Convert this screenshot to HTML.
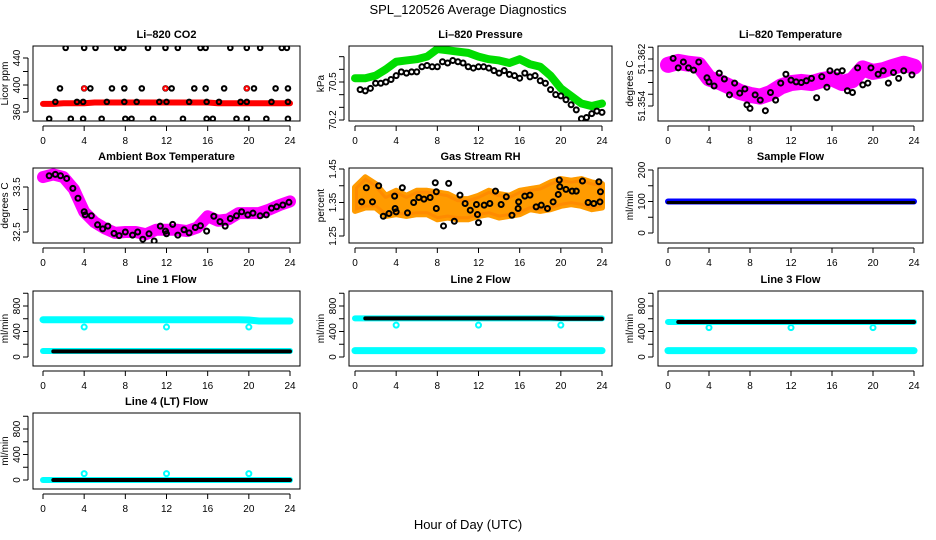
<!DOCTYPE html>
<html><head><meta charset="utf-8"><style>
html,body{margin:0;padding:0;background:#fff;}
svg{display:block;font-family:"Liberation Sans",sans-serif;}
</style></head><body>
<svg id="chart" width="936" height="540" viewBox="0 0 936 540" xmlns="http://www.w3.org/2000/svg">
<rect width="936" height="540" fill="#fff"/>
<text x="468" y="14" text-anchor="middle" font-size="13">SPL_120526  Average Diagnostics</text>
<text x="468" y="529" text-anchor="middle" font-size="13">Hour of Day (UTC)</text>
</svg>
<script>
// ---------- data ----------
const hours = [0,1,2,3,4,5,6,7,8,9,10,11,12,13,14,15,16,17,18,19,20,21,22,23,24];
const xTicks = [0,4,8,12,16,20,24];

// CO2
const co2RedBand = [372,372,373,373,373,374,374,374,374,374,374,374,374,374,374,374,374,373,373,373,373,373,373,373,373];
const co2BlackHours = [2.2,4.0,5.1,7.2,7.8,10.2,11.9,13.1,15.3,15.8,18.2,19.8,21.1,23.2,23.7,
 1.65,4.0,4.6,6.7,7.9,9.6,11.9,12.5,14.7,15.8,17.6,19.8,20.5,22.6,23.8,
 1.2,3.3,3.9,6.2,7.9,9.1,11.3,12.0,14.2,15.9,17.1,19.2,19.8,22.2,23.8,
 0.6,2.7,3.9,5.7,8.0,8.6,10.7,13.6,15.9,16.5,18.8,19.8,21.7,23.8];
const co2BlackVals = [455,455,455,455,455,455,455,455,455,455,455,455,455,455,455,
 395,395,395,395,395,395,395,395,395,395,395,395,395,395,395,
 375,375,375,375,375,375,375,375,375,375,375,375,375,375,375,
 350,350,350,350,350,350,350,350,350,350,350,350,350,350];
const co2RedHours = [4.0,11.9,19.8];
const co2RedVals = [395,395,395];

// Pressure
const presGreen = [70.53,70.53,70.55,70.60,70.66,70.67,70.68,70.70,70.76,70.75,70.74,70.73,70.70,70.68,70.67,70.65,70.68,70.64,70.62,70.55,70.45,70.39,70.33,70.31,70.33];
const presBlackHours = [0.5,1,1.5,2,2.5,3,3.5,4,4.5,5,5.5,6,6.5,7,7.5,8,8.5,9,9.5,10,10.5,11,11.5,12,12.5,13,13.5,14,14.5,15,15.5,16,16.5,17,17.5,18,18.5,19,19.5,20,20.5,21,21.5,22,22.5,23,23.5,24];
const presBlackVals = [70.44,70.43,70.45,70.49,70.49,70.50,70.52,70.55,70.58,70.57,70.58,70.58,70.62,70.63,70.62,70.62,70.66,70.65,70.67,70.66,70.65,70.62,70.61,70.62,70.62,70.61,70.59,70.57,70.59,70.56,70.55,70.53,70.57,70.54,70.55,70.51,70.49,70.44,70.40,70.39,70.36,70.32,70.28,70.21,70.22,70.25,70.27,70.26];

// Li-820 temperature
const tempMagenta = [51.3610,51.3615,51.3612,51.3610,51.3587,51.3581,51.3573,51.3564,51.3559,51.3556,51.3562,51.3573,51.3579,51.3581,51.3579,51.3584,51.3587,51.3579,51.3584,51.3604,51.3598,51.3601,51.3607,51.3612,51.3607];
const tempBlackHours = [0.5,1,1.5,2,2.5,3,3.8,4,4.5,5,5.5,6,6.5,7,7.5,7.7,8,8.5,9,9.5,10,10.5,11,11.5,12,12.5,13,13.5,14,14.5,15,15.5,15.8,16.5,17,17.5,18,18.5,19,19.5,19.8,20.5,21,21.5,22,22.5,23,23.8];
const tempBlackVals = [51.3621,51.3605,51.3615,51.3605,51.3601,51.3615,51.3588,51.3581,51.3574,51.3596,51.3586,51.3559,51.3579,51.3562,51.3569,51.3542,51.3536,51.3559,51.3550,51.3532,51.3563,51.3550,51.3579,51.3594,51.3584,51.3581,51.3580,51.3583,51.3587,51.3554,51.3590,51.3572,51.3600,51.3598,51.3600,51.3566,51.3563,51.3605,51.3576,51.3579,51.3605,51.3594,51.3600,51.3579,51.3597,51.3587,51.3600,51.3593];

// Ambient box temperature
const ambMagenta = [33.72,33.78,33.72,33.45,32.95,32.72,32.58,32.48,32.50,32.50,32.45,32.55,32.55,32.55,32.52,32.60,32.85,32.75,32.78,32.92,32.92,32.92,33.00,33.10,33.18];
const ambBlackHours = [0.6,1.2,1.7,2.3,2.9,3.4,4.0,4.1,4.7,5.3,5.8,6.3,6.9,7.4,8.0,8.7,9.2,9.7,10.3,10.8,11.4,11.9,12.0,12.6,13.1,13.7,14.2,14.8,15.3,15.9,16.6,17.2,17.7,18.2,18.8,19.3,19.9,20.4,21.1,21.7,22.2,22.7,23.3,23.9];
const ambBlackVals = [33.75,33.78,33.75,33.69,33.47,33.25,32.95,32.88,32.86,32.66,32.57,32.63,32.47,32.42,32.50,32.43,32.50,32.34,32.46,32.30,32.63,32.52,32.46,32.67,32.43,32.55,32.48,32.60,32.64,32.52,32.85,32.73,32.63,32.80,32.86,32.95,32.88,32.92,32.86,32.88,33.03,33.06,33.10,33.16];

// Gas stream RH
const rhCenter = [1.36,1.38,1.37,1.34,1.35,1.34,1.35,1.35,1.34,1.34,1.33,1.33,1.34,1.35,1.34,1.34,1.35,1.36,1.36,1.37,1.38,1.38,1.38,1.37,1.37];
const rhHalfWidth = [0.035,0.045,0.035,0.03,0.035,0.03,0.035,0.035,0.04,0.035,0.03,0.03,0.03,0.035,0.035,0.03,0.035,0.03,0.035,0.04,0.04,0.035,0.04,0.04,0.035];
const rhBlackHours = [0.65,1.1,1.7,2.3,2.75,3.3,3.85,3.9,4.0,4.6,5.1,5.7,6.2,6.7,7.3,7.8,7.9,7.9,8.6,9.1,9.65,10.2,10.7,11.2,11.8,11.9,12.0,12.55,13.1,13.65,14.2,14.7,15.25,15.85,15.9,16.5,17.0,17.6,18.1,18.7,19.25,19.75,19.85,19.9,20.5,21.1,21.5,22.1,22.65,23.2,23.7,23.8,23.85];
const rhBlackVals = [1.352,1.394,1.352,1.400,1.309,1.317,1.369,1.332,1.322,1.394,1.319,1.350,1.365,1.360,1.365,1.409,1.382,1.332,1.280,1.407,1.294,1.372,1.347,1.327,1.344,1.314,1.290,1.342,1.347,1.384,1.344,1.367,1.312,1.332,1.352,1.369,1.372,1.337,1.342,1.332,1.352,1.374,1.417,1.397,1.389,1.384,1.384,1.414,1.350,1.347,1.412,1.352,1.382];

// Flows
const sampleBlue = [100,100,100,100,100,100,100,100,100,100,100,100,100,100,100,100,100,100,100,100,100,100,100,100,100];
const sampleBlack = [97,97,97,97,97,97,97,97,97,97,97,97,97,97,97,97,97,97,97,97,97,97,97,97,97];
const line1CyanHigh = [585,585,585,585,585,585,585,585,585,585,585,585,585,585,585,585,585,585,585,585,580,565,565,565,565];
const line1CyanLow = [95,95,95,95,95,95,95,95,95,95,95,95,95,95,95,95,95,95,95,95,95,95,95,95,95];
const line1Black = [88,88,88,88,88,88,88,88,88,88,88,88,88,88,88,88,88,88,88,88,88,88,88,88,88];
const line2CyanHigh = [605,605,605,605,605,605,605,605,605,605,605,605,605,605,605,605,605,605,605,605,605,605,605,605,605];
const line2CyanLow = [100,100,100,100,100,100,100,100,100,100,100,100,100,100,100,100,100,100,100,100,100,100,100,100,100];
const line2Black = [605,605,605,605,605,605,605,605,605,605,605,605,605,605,605,605,605,605,605,605,600,600,600,600,600];
const line3CyanHigh = [550,550,550,550,550,550,550,550,550,550,550,550,550,550,550,550,550,550,550,550,550,550,550,550,550];
const line3CyanLow = [100,100,100,100,100,100,100,100,100,100,100,100,100,100,100,100,100,100,100,100,100,100,100,100,100];
const line3Black = [550,550,550,550,550,550,550,550,550,550,550,550,550,550,550,550,550,550,550,550,550,550,550,550,550];
const line4Cyan = [0,0,0,0,0,0,0,0,0,0,0,0,0,0,0,0,0,0,0,0,0,0,0,0,0];
const line4Black = [0,0,0,0,0,0,0,0,0,0,0,0,0,0,0,0,0,0,0,0,0,0,0,0,0];
const outlierHours = [4,12,20];
const line1Outliers = [470,470,470];
const line2Outliers = [500,500,500];
const line3Outliers = [460,460,460];
const line4Outliers = [100,100,100];

// ---------- drawing ----------
const NS = 'http://www.w3.org/2000/svg';
const svg = document.getElementById('chart');
function el(tag, attrs, parent){ const e=document.createElementNS(NS,tag); for(const k in attrs) e.setAttribute(k,attrs[k]); (parent||svg).appendChild(e); return e; }

const cols = [{l:33,r:300,x0:43,x24:290},{l:349,r:612,x0:355,x24:602},{l:658,r:923,x0:668,x24:914}];
const rows = [{t:46,b:121},{t:168,b:243},{t:291,b:366},{t:413,b:489}];

function panel(name, title, ci, ri, yref, ticks, labels, ylab){
  const c=cols[ci], r=rows[ri];
  const g = el('g',{});
  
  
  const xs = h => c.x0 + (c.x24-c.x0)*h/24;
  const ys = v => yref[1] + (v-yref[0])*(yref[3]-yref[1])/(yref[2]-yref[0]);
  const clip = el('clipPath',{id:'clip-'+name}, g);
  el('rect',{x:c.l,y:r.t,width:c.r-c.l,height:r.b-r.t},clip);
  const plot = el('g',{'clip-path':'url(#clip-'+name+')'}, g);
  
  
  const t = el('text',{x:(c.l+c.r)/2,y:r.t-8,'text-anchor':'middle','font-size':'11','font-weight':'bold'},g);
  t.textContent = title;
  
  
  el('rect',{x:c.l,y:r.t,width:c.r-c.l,height:r.b-r.t,fill:'none',stroke:'#000','stroke-width':1},g);
  const xa = el('g',{},g);
  
  
  el('line',{x1:xs(0),x2:xs(24),y1:r.b+5,y2:r.b+5,stroke:'#000'},xa);
  xTicks.forEach(h=>{
    el('line',{x1:xs(h),x2:xs(h),y1:r.b+5,y2:r.b+10,stroke:'#000'},xa);
    const tl = el('text',{x:xs(h),y:r.b+23,'text-anchor':'middle','font-size':'10'},xa);
    tl.textContent = h;
    
    
  });
  const ya = el('g',{},g);
  
  
  el('line',{x1:c.l-5,x2:c.l-5,y1:ys(ticks[0]),y2:ys(ticks[ticks.length-1]),stroke:'#000'},ya);
  ticks.forEach(v=>{ el('line',{x1:c.l-10,x2:c.l-5,y1:ys(v),y2:ys(v),stroke:'#000'},ya); });
  labels.forEach(v=>{
    const yy=ys(v);
    const tl = el('text',{x:c.l-13,y:yy,'text-anchor':'middle','font-size':'10',transform:`rotate(-90 ${c.l-13} ${yy})`},ya);
    tl.textContent = v;
    
    
  });
  const yl = el('text',{x:c.l-25,y:(r.t+r.b)/2,'text-anchor':'middle','font-size':'10',transform:`rotate(-90 ${c.l-25} ${(r.t+r.b)/2})`},g);
  yl.textContent = ylab;
  
  
  return {plot, xs, ys};
}
function band(p, hs, vals, color, w, name){
  const pl = el('polyline',{points:hs.map((h,i)=>p.xs(h)+','+p.ys(vals[i])).join(' '),fill:'none',stroke:color,'stroke-width':w,'stroke-linejoin':'round','stroke-linecap':'round'},p.plot);
  
  
}
function pts(p, hs, vals, color, rad, name, sw){
  hs.forEach((h,i)=>{
    const c = el('circle',{cx:p.xs(h),cy:p.ys(vals[i]),r:rad,fill:'none',stroke:color,'stroke-width':sw||2},p.plot);
    
    
  });
}
function areaBand(p, hs, center, half, color, name){
  const up = hs.map((h,i)=>p.xs(h)+','+p.ys(center[i]+half[i]));
  const dn = hs.map((h,i)=>p.xs(h)+','+p.ys(center[i]-half[i])).reverse();
  const pg = el('polygon',{points:up.concat(dn).join(' '),fill:color,stroke:color,'stroke-width':6,'stroke-linejoin':'round'},p.plot);
  
  
}

let p = panel('co2-panel','Li\u2013820 CO2',0,0,[440,58,360,112],[360,380,400,420,440],[360,400,440],'Licor ppm');
band(p,hours,co2RedBand,'#ff0000',6,'co2-red-series');
pts(p,co2BlackHours,co2BlackVals,'#000',2.3,'co2-black-point');
pts(p,co2RedHours,co2RedVals,'#ff0000',2,'co2-red-point');

p = panel('pressure-panel','Li\u2013820 Pressure',1,0,[70.5,82,70.2,120],[70.2,70.3,70.4,70.5,70.6,70.7],[70.2,70.5],'kPa');
band(p,hours,presGreen,'#00dd00',8,'pressure-green-series');
pts(p,presBlackHours,presBlackVals,'#000',2.5,'pressure-black-point');

p = panel('temperature-panel','Li\u2013820 Temperature',2,0,[51.362,59,51.354,106],[51.354,51.356,51.358,51.360,51.362,51.364],[51.354,51.362],'degrees C');
band(p,hours,tempMagenta,'#ff00ff',16,'temperature-magenta-series');
pts(p,tempBlackHours,tempBlackVals,'#000',2.5,'temperature-black-point');

p = panel('ambient-panel','Ambient Box Temperature',0,1,[33.5,187,32.5,232],[32.5,33,33.5],[32.5,33.5],'degrees C');
band(p,hours,ambMagenta,'#ff00ff',12,'ambient-magenta-series');
pts(p,ambBlackHours,ambBlackVals,'#000',2.5,'ambient-black-point');

p = panel('rh-panel','Gas Stream RH',1,1,[1.45,169,1.25,236],[1.25,1.30,1.35,1.40,1.45],[1.25,1.35,1.45],'percent');
areaBand(p,hours,rhCenter,rhHalfWidth,'#ffb000','rh-orange-band');
areaBand(p,hours,rhCenter,rhHalfWidth,'rgba(255,90,0,0.25)','rh-red-overlay');
pts(p,rhBlackHours,rhBlackVals,'#000',2.5,'rh-black-point');

p = panel('sample-flow-panel','Sample Flow',2,1,[200,170,0,233],[0,50,100,150,200],[0,100,200],'ml/min');
band(p,hours,sampleBlue,'#0000ff',6,'sample-blue-series');
band(p,hours,sampleBlack,'#000',3,'sample-black-series');

const flowTicks=[0,200,400,600,800,1000], flowLabels=[0,400,800];
p = panel('line1-panel','Line 1 Flow',0,2,[800,306,0,357],flowTicks,flowLabels,'ml/min');
band(p,hours,line1CyanHigh,'#00ffff',7,'line1-cyan-high');
band(p,hours,line1CyanLow,'#00ffff',6,'line1-cyan-low');
band(p,hours.slice(1),line1Black.slice(1),'#000',4,'line1-black-series');
pts(p,outlierHours,line1Outliers,'#00ffff',2.5,'line1-outlier');

p = panel('line2-panel','Line 2 Flow',1,2,[800,306,0,357],flowTicks,flowLabels,'ml/min');
band(p,hours,line2CyanLow,'#00ffff',7,'line2-cyan-low');
band(p,hours,line2CyanHigh,'#00ffff',6,'line2-cyan-high');
band(p,hours.slice(1),line2Black.slice(1),'#000',4,'line2-black-series');
pts(p,outlierHours,line2Outliers,'#00ffff',2.5,'line2-outlier');

p = panel('line3-panel','Line 3 Flow',2,2,[800,306,0,357],flowTicks,flowLabels,'ml/min');
band(p,hours,line3CyanLow,'#00ffff',7,'line3-cyan-low');
band(p,hours,line3CyanHigh,'#00ffff',6,'line3-cyan-high');
band(p,hours.slice(1),line3Black.slice(1),'#000',4,'line3-black-series');
pts(p,outlierHours,line3Outliers,'#00ffff',2.5,'line3-outlier');

p = panel('line4-panel','Line 4 (LT) Flow',0,3,[800,429,0,480],flowTicks,flowLabels,'ml/min');
band(p,hours,line4Cyan,'#00ffff',6,'line4-cyan-series');
band(p,hours.slice(1),line4Black.slice(1),'#000',4,'line4-black-series');
pts(p,outlierHours,line4Outliers,'#00ffff',2.5,'line4-outlier');
</script>
</body></html>
